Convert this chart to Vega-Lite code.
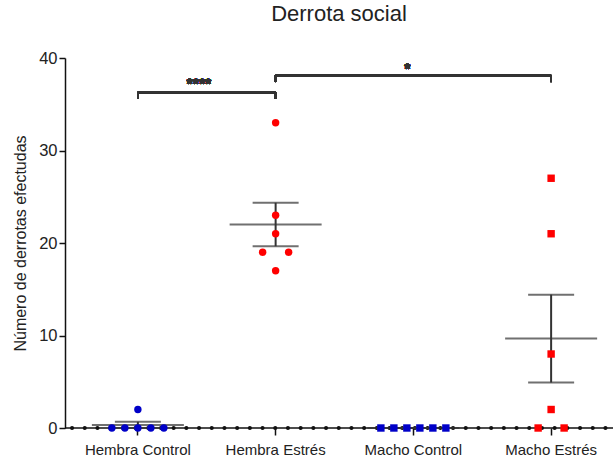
{
  "$schema": "https://vega.github.io/schema/vega-lite/v6.json",
  "autosize": "none",
  "width": 548,
  "height": 370,
  "padding": {"left": 65, "top": 58, "right": 0, "bottom": 35},
  "background": "white",
  "title": {
    "text": "Derrota social",
    "font": "Liberation Sans",
    "fontSize": 22,
    "fontWeight": "normal",
    "color": "#222222",
    "anchor": "middle",
    "offset": 24
  },
  "config": {
    "view": {"stroke": null},
    "font": "Liberation Sans"
  },
  "data": {
    "values": [
      {"grupo": "Hembra Control", "sexo": "Hembra", "derrotas": 0, "columna": -2},
      {"grupo": "Hembra Control", "sexo": "Hembra", "derrotas": 0, "columna": -1},
      {"grupo": "Hembra Control", "sexo": "Hembra", "derrotas": 0, "columna": 0},
      {"grupo": "Hembra Control", "sexo": "Hembra", "derrotas": 0, "columna": 1},
      {"grupo": "Hembra Control", "sexo": "Hembra", "derrotas": 0, "columna": 2},
      {"grupo": "Hembra Control", "sexo": "Hembra", "derrotas": 2, "columna": 0},
      {"grupo": "Hembra Estrés", "sexo": "Hembra", "derrotas": 33, "columna": 0},
      {"grupo": "Hembra Estrés", "sexo": "Hembra", "derrotas": 23, "columna": 0},
      {"grupo": "Hembra Estrés", "sexo": "Hembra", "derrotas": 21, "columna": 0},
      {"grupo": "Hembra Estrés", "sexo": "Hembra", "derrotas": 19, "columna": -1},
      {"grupo": "Hembra Estrés", "sexo": "Hembra", "derrotas": 19, "columna": 1},
      {"grupo": "Hembra Estrés", "sexo": "Hembra", "derrotas": 17, "columna": 0},
      {"grupo": "Macho Control", "sexo": "Macho", "derrotas": 0, "columna": -2.5},
      {"grupo": "Macho Control", "sexo": "Macho", "derrotas": 0, "columna": -1.5},
      {"grupo": "Macho Control", "sexo": "Macho", "derrotas": 0, "columna": -0.5},
      {"grupo": "Macho Control", "sexo": "Macho", "derrotas": 0, "columna": 0.5},
      {"grupo": "Macho Control", "sexo": "Macho", "derrotas": 0, "columna": 1.5},
      {"grupo": "Macho Control", "sexo": "Macho", "derrotas": 0, "columna": 2.5},
      {"grupo": "Macho Estrés", "sexo": "Macho", "derrotas": 27, "columna": 0},
      {"grupo": "Macho Estrés", "sexo": "Macho", "derrotas": 21, "columna": 0},
      {"grupo": "Macho Estrés", "sexo": "Macho", "derrotas": 8, "columna": 0},
      {"grupo": "Macho Estrés", "sexo": "Macho", "derrotas": 2, "columna": 0},
      {"grupo": "Macho Estrés", "sexo": "Macho", "derrotas": 0, "columna": -1},
      {"grupo": "Macho Estrés", "sexo": "Macho", "derrotas": 0, "columna": 1}
    ]
  },
  "encoding": {
    "x": {
      "field": "grupo",
      "type": "nominal",
      "sort": ["Hembra Control", "Hembra Estrés", "Macho Control", "Macho Estrés"],
      "scale": {"type": "band", "paddingInner": 0, "paddingOuter": 0, "range": [4, 555]},
      "axis": {
        "title": null,
        "domain": false,
        "labelAngle": 0,
        "labelFont": "Liberation Sans",
        "labelFontSize": 15,
        "labelColor": "#222222",
        "labelPadding": 7,
        "tickSize": 7,
        "tickColor": "#111111",
        "tickWidth": 1.5,
        "grid": false
      }
    }
  },
  "layer": [
    {
      "data": {"values": [{"nivel": 0}]},
      "mark": {"type": "rule", "color": "#111111", "strokeWidth": 1.5},
      "encoding": {
        "x": {"value": 0},
        "x2": {"value": "width"},
        "y": {"field": "nivel", "type": "quantitative"}
      }
    },
    {
      "data": {"values": [{"nivel": 0}]},
      "mark": {"type": "rule", "color": "#111111", "strokeWidth": 4, "strokeDash": [0.1, 12.6], "strokeDashOffset": -7, "strokeCap": "round"},
      "encoding": {
        "x": {"value": 0},
        "x2": {"value": "width"},
        "y": {"field": "nivel", "type": "quantitative"}
      }
    },
    {
      "transform": [
        {"aggregate": [
          {"op": "mean", "field": "derrotas", "as": "media"},
          {"op": "stderr", "field": "derrotas", "as": "eem"}
        ], "groupby": ["grupo"]},
        {"calculate": "datum.media - datum.eem", "as": "inferior"},
        {"calculate": "datum.media + datum.eem", "as": "superior"}
      ],
      "layer": [
        {
          "mark": {"type": "rule", "color": "#333333", "strokeWidth": 2},
          "encoding": {
            "y": {"field": "inferior", "type": "quantitative"},
            "y2": {"field": "superior"}
          }
        },
        {
          "mark": {"type": "tick", "color": "#333333", "thickness": 2, "size": 92, "orient": "horizontal"},
          "encoding": {"y": {"field": "media", "type": "quantitative"}}
        },
        {
          "mark": {"type": "tick", "color": "#333333", "thickness": 2, "size": 46, "orient": "horizontal"},
          "encoding": {"y": {"field": "inferior", "type": "quantitative"}}
        },
        {
          "mark": {"type": "tick", "color": "#333333", "thickness": 2, "size": 46, "orient": "horizontal"},
          "encoding": {"y": {"field": "superior", "type": "quantitative"}}
        }
      ]
    },
    {
      "mark": {"type": "point", "filled": true, "opacity": 1, "size": 55},
      "encoding": {
        "xOffset": {"field": "columna", "type": "quantitative", "scale": {"domain": [-5.3, 5.3]}},
        "y": {
          "field": "derrotas",
          "type": "quantitative",
          "scale": {"domain": [0, 40], "nice": false},
          "axis": {
            "title": "Número de derrotas efectudas",
            "titleFont": "Liberation Sans",
            "titleFontSize": 16,
            "titleFontWeight": "normal",
            "titleColor": "#222222",
            "titlePadding": 10,
            "values": [0, 10, 20, 30, 40],
            "labelFont": "Liberation Sans",
            "labelFontSize": 16.5,
            "labelColor": "#222222",
            "labelPadding": 2,
            "tickSize": 6,
            "tickColor": "#111111",
            "tickWidth": 1.5,
            "domainColor": "#111111",
            "domainWidth": 1.5,
            "grid": false
          }
        },
        "color": {
          "field": "grupo",
          "type": "nominal",
          "scale": {
            "domain": ["Hembra Control", "Hembra Estrés", "Macho Control", "Macho Estrés"],
            "range": ["#0000c8", "#ff0000", "#0000c8", "#ff0000"]
          },
          "legend": null
        },
        "shape": {
          "field": "sexo",
          "type": "nominal",
          "scale": {"domain": ["Hembra", "Macho"], "range": ["circle", "square"]},
          "legend": null
        }
      }
    },
    {
      "mark": {"type": "rule", "color": "#333333", "strokeWidth": 1.8},
      "encoding": {
        "x": {"datum": "Hembra Control"},
        "x2": {"datum": "Hembra Estrés"},
        "y": {"datum": 36.3, "type": "quantitative"}
      }
    },
    {
      "mark": {"type": "rule", "color": "#333333", "strokeWidth": 1.8},
      "encoding": {
        "x": {"datum": "Hembra Control"},
        "y": {"datum": 35.6, "type": "quantitative"},
        "y2": {"datum": 36.3}
      }
    },
    {
      "mark": {"type": "rule", "color": "#333333", "strokeWidth": 1.8},
      "encoding": {
        "x": {"datum": "Hembra Estrés"},
        "y": {"datum": 35.6, "type": "quantitative"},
        "y2": {"datum": 36.3}
      }
    },
    {
      "mark": {"type": "text", "text": "****", "font": "Liberation Sans", "fontSize": 16, "fontWeight": "bold", "color": "#333333", "dx": 61, "baseline": "alphabetic"},
      "encoding": {
        "x": {"datum": "Hembra Control"},
        "y": {"datum": 36.5, "type": "quantitative"}
      }
    },
    {
      "mark": {"type": "rule", "color": "#333333", "strokeWidth": 1.8},
      "encoding": {
        "x": {"datum": "Hembra Estrés"},
        "x2": {"datum": "Macho Estrés"},
        "y": {"datum": 38.1, "type": "quantitative"}
      }
    },
    {
      "mark": {"type": "rule", "color": "#333333", "strokeWidth": 1.8},
      "encoding": {
        "x": {"datum": "Hembra Estrés"},
        "y": {"datum": 37.4, "type": "quantitative"},
        "y2": {"datum": 38.1}
      }
    },
    {
      "mark": {"type": "rule", "color": "#333333", "strokeWidth": 1.8},
      "encoding": {
        "x": {"datum": "Macho Estrés"},
        "y": {"datum": 37.4, "type": "quantitative"},
        "y2": {"datum": 38.1}
      }
    },
    {
      "mark": {"type": "text", "text": "*", "font": "Liberation Sans", "fontSize": 16, "fontWeight": "bold", "color": "#333333", "dx": -6, "baseline": "alphabetic"},
      "encoding": {
        "x": {"datum": "Macho Control"},
        "y": {"datum": 38.2, "type": "quantitative"}
      }
    }
  ]
}
